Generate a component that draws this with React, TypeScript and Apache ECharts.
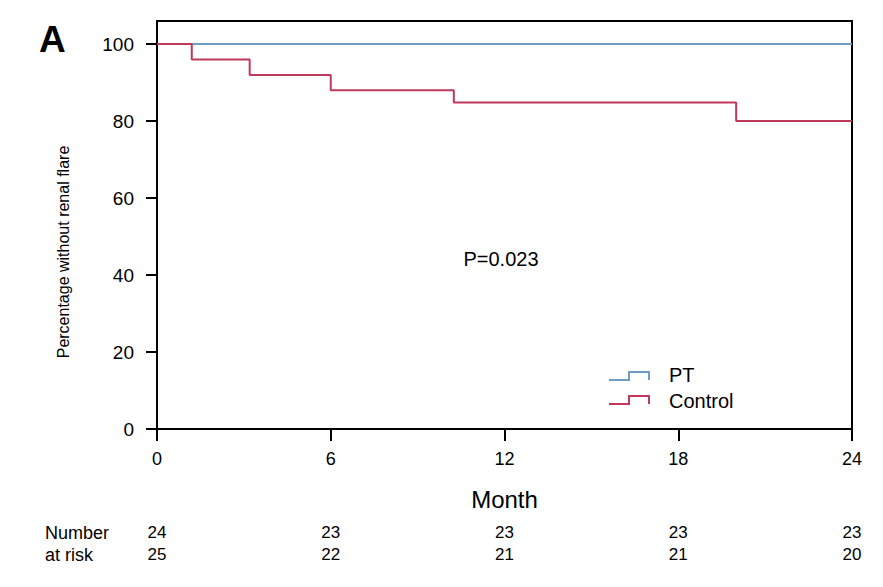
import React, { useEffect, useRef } from "react";
import * as echarts from "echarts";

const months = [0, 1.2, 3.2, 6.0, 10.25, 20.0, 24];
const controlSurvival = [100, 96, 92, 88, 84.8, 80, 80];
const ptMonths = [0, 24];
const ptSurvival = [100, 100];
const riskMonths = [0, 6, 12, 18, 24];
const ptAtRisk = [24, 23, 23, 23, 23];
const controlAtRisk = [25, 22, 21, 21, 20];
const yTicks = [0, 20, 40, 60, 80, 100];

const BLUE = "#6f9dc6";
const RED = "#c0395a";
const FONT = "'Liberation Sans', Arial, Helvetica, sans-serif";

export default function App() {
  const ref = useRef<HTMLDivElement>(null);
  useEffect(() => {
    const chart = echarts.init(ref.current!, undefined, { renderer: "svg" });
    const riskAxis = (counts: number[], offset: number) => ({
      type: "value",
      position: "bottom",
      min: 0,
      max: 24,
      interval: 6,
      offset,
      axisLine: { show: false },
      axisTick: { show: false },
      splitLine: { show: false },
      axisLabel: {
        margin: 0,
        fontSize: 17,
        color: "#000",
        fontFamily: FONT,
        formatter: (v: number) => {
          const i = riskMonths.indexOf(v);
          return i >= 0 ? String(counts[i]) : "";
        },
      },
    });
    chart.setOption({
      animation: false,
      grid: {
        left: 157,
        right: 31,
        top: 21,
        bottom: 158,
        show: true,
        borderColor: "#000",
        borderWidth: 2,
        backgroundColor: "transparent",
      },
      xAxis: [
        {
          type: "value",
          min: 0,
          max: 24,
          interval: 6,
          name: "Month",
          nameLocation: "middle",
          nameGap: 58,
          nameTextStyle: { fontSize: 24, color: "#000", fontFamily: FONT },
          axisLine: { show: true, lineStyle: { color: "#000", width: 2 } },
          axisTick: { show: true, length: 12, lineStyle: { color: "#000", width: 2 } },
          splitLine: { show: false },
          axisLabel: { margin: 21, fontSize: 18, color: "#000", fontFamily: FONT },
        },
        riskAxis(ptAtRisk, 95),
        riskAxis(controlAtRisk, 117),
      ],
      yAxis: {
        type: "value",
        min: 0,
        max: 106,
        axisLine: { show: true, lineStyle: { color: "#000", width: 2 } },
        axisTick: {
          show: true,
          length: 11,
          customValues: yTicks,
          lineStyle: { color: "#000", width: 2 },
        },
        splitLine: { show: false },
        axisLabel: {
          margin: 23,
          fontSize: 19,
          color: "#000",
          fontFamily: FONT,
          customValues: yTicks,
        },
      },
      series: [
        {
          name: "PT",
          type: "line",
          step: "end",
          data: ptMonths.map((m, i) => [m, ptSurvival[i]]),
          showSymbol: false,
          lineStyle: { color: BLUE, width: 2 },
          z: 3,
        },
        {
          name: "Control",
          type: "line",
          step: "end",
          data: months.map((m, i) => [m, controlSurvival[i]]),
          showSymbol: false,
          lineStyle: { color: RED, width: 2 },
          z: 4,
        },
      ],
      graphic: [
        {
          type: "text",
          left: 39,
          top: 21,
          style: { text: "A", font: `bold 37px ${FONT}`, fill: "#000" },
        },
        {
          type: "text",
          x: 63,
          y: 252,
          rotation: Math.PI / 2,
          style: {
            text: "Percentage without renal flare",
            font: `16px ${FONT}`,
            fill: "#000",
            align: "center",
            verticalAlign: "middle",
          },
        },
        {
          type: "text",
          x: 501,
          y: 259,
          style: {
            text: "P=0.023",
            font: `20px ${FONT}`,
            fill: "#000",
            align: "center",
            verticalAlign: "middle",
          },
        },
        {
          type: "polyline",
          shape: { points: [[609, 380], [629, 380], [629, 372], [649, 372], [649, 380]] },
          style: { stroke: BLUE, lineWidth: 2, fill: "none" },
        },
        {
          type: "text",
          x: 669,
          y: 375,
          style: { text: "PT", font: `20px ${FONT}`, fill: "#000", verticalAlign: "middle" },
        },
        {
          type: "polyline",
          shape: { points: [[609, 404], [629, 404], [629, 396], [649, 396], [649, 404]] },
          style: { stroke: RED, lineWidth: 2, fill: "none" },
        },
        {
          type: "text",
          x: 669,
          y: 401,
          style: { text: "Control", font: `20px ${FONT}`, fill: "#000", verticalAlign: "middle" },
        },
        {
          type: "text",
          x: 45,
          y: 533,
          style: { text: "Number", font: `18px ${FONT}`, fill: "#000", verticalAlign: "middle" },
        },
        {
          type: "text",
          x: 45,
          y: 555,
          style: { text: "at risk", font: `18px ${FONT}`, fill: "#000", verticalAlign: "middle" },
        },
      ],
    });
    return () => chart.dispose();
  }, []);
  return (
    <div
      ref={ref}
      style={{ position: "fixed", left: 0, top: 0, width: 883, height: 587, background: "#fff" }}
    />
  );
}
